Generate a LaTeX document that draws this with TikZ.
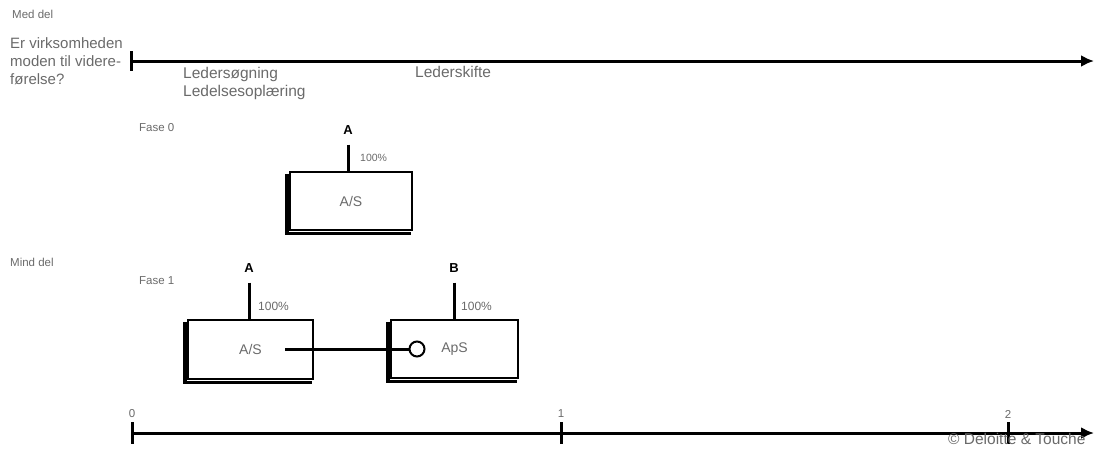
\documentclass[tikz,border=0pt]{standalone}
\usepackage{fontspec}
\setmainfont{Liberation Sans}
\usetikzlibrary{arrows.meta,calc}
\definecolor{txt}{HTML}{6A6A6A}
\begin{document}
\begin{tikzpicture}[x=1pt,y=-1pt,
  lbl/.style={text=txt,font=\fontsize{15.5}{18}\selectfont,inner sep=0pt,anchor=north west,align=left},
  small/.style={text=txt,font=\fontsize{11.5}{13}\selectfont,inner sep=0pt,anchor=west},
  pct/.style={text=txt,font=\fontsize{12}{14}\selectfont,inner sep=0pt,anchor=west},
  owner/.style={font=\bfseries\fontsize{13}{15}\selectfont,inner sep=0pt},
  company/.style={draw,line width=2.5pt,text=txt,font=\fontsize{14}{16}\selectfont,inner sep=0pt},
  shadowline/.style={line width=3.5pt},
  axis/.style={line width=3pt},
  stem/.style={line width=3pt},
  tick/.style={line width=3pt},
  tip/.style={-{Latex[length=13pt,width=12pt]}}
]
\useasboundingbox (0,0) rectangle (1094,448);

% headings
\node[small] (h1) at (12,14) {Med del};
\node[lbl,font=\fontsize{15}{18}\selectfont] (q) at (10,37) {Er virksomheden\\moden til videre-\\førelse?};

% top axis
\coordinate (ta0) at (131,61);
\coordinate (ta1) at (1094,61);
\draw[axis,tip] (ta0) -- (ta1);
\draw[tick] ($(ta0)+(0,-10)$) -- ($(ta0)+(0,10)$);
\node[lbl] (l1) at (183,67) {Ledersøgning\\Ledelsesoplæring};
\node[lbl] (l2) at (415,66) {Lederskifte};

% Fase 0
\node[small] (f0) at (139,128) {Fase 0};
\node[owner] (A0) at (348,130) {A};
\node[company,minimum width=122pt,minimum height=58pt] (b0) at (351,201) {A/S};
\draw[shadowline] ($(b0.north west)+(-2,3)$) -- ($(b0.south west)+(-2,2)$) -- ($(b0.south east)+(-2,2)$);
\draw[stem] ($(A0.south)+(0,10)$) -- (A0.south |- b0.north);
\node[pct,font=\fontsize{10.5}{12}\selectfont] (p0) at (360,158) {100\%};

% Fase 1
\node[small] (h2) at (10,262) {Mind del};
\node[small] (f1) at (139,281) {Fase 1};
\node[owner] (A1) at (249,268) {A};
\node[owner] (B1) at (454,268) {B};
\node[company,minimum width=125pt,minimum height=59pt] (b1) at (250.5,349.5) {A/S};
\node[company,minimum width=127pt,minimum height=58pt] (b2) at (454.5,349) {ApS};
\draw[shadowline] ($(b1.north west)+(-2,3)$) -- ($(b1.south west)+(-2,2)$) -- ($(b1.south east)+(-2,2)$);
\draw[shadowline] ($(b2.north west)+(-2,3)$) -- ($(b2.south west)+(-2,2)$) -- ($(b2.south east)+(-2,2)$);
\draw[stem] ($(A1.south)+(0,10)$) -- (A1.south |- b1.north);
\draw[stem] ($(B1.south)+(0,10)$) -- (B1.south |- b2.north);
\node[pct] (p1) at (258,306) {100\%};
\node[pct] (p2) at (461,306) {100\%};

\coordinate (s) at (285,349);
\node[draw,circle,line width=2pt,minimum size=15pt,inner sep=0pt] (c) at (417,349) {};
\draw[line width=3pt] (s) -- (c.west);

% bottom axis
\coordinate (ba0) at (132,433);
\coordinate (ba1) at (1094,433);
\draw[axis,tip] (ba0) -- (ba1);
\coordinate (ba2) at (561,433);
\coordinate (ba3) at (1008,433);
\draw[tick] ($(ba0)+(0,-11)$) -- ($(ba0)+(0,11)$);
\draw[tick] ($(ba2)+(0,-11)$) -- ($(ba2)+(0,11)$);
\draw[tick] ($(ba3)+(0,-11)$) -- ($(ba3)+(0,11)$);
\node[small,anchor=center] (n0) at (132,414) {0};
\node[small,anchor=center] (n1) at (561,414) {1};
\node[small,anchor=center] (n2) at (1008,414) {2};
\node[lbl,anchor=west,font=\fontsize{15.5}{18}\selectfont] (copy) at (948,439) {© Deloitte \& Touche};
\end{tikzpicture}
\end{document}
